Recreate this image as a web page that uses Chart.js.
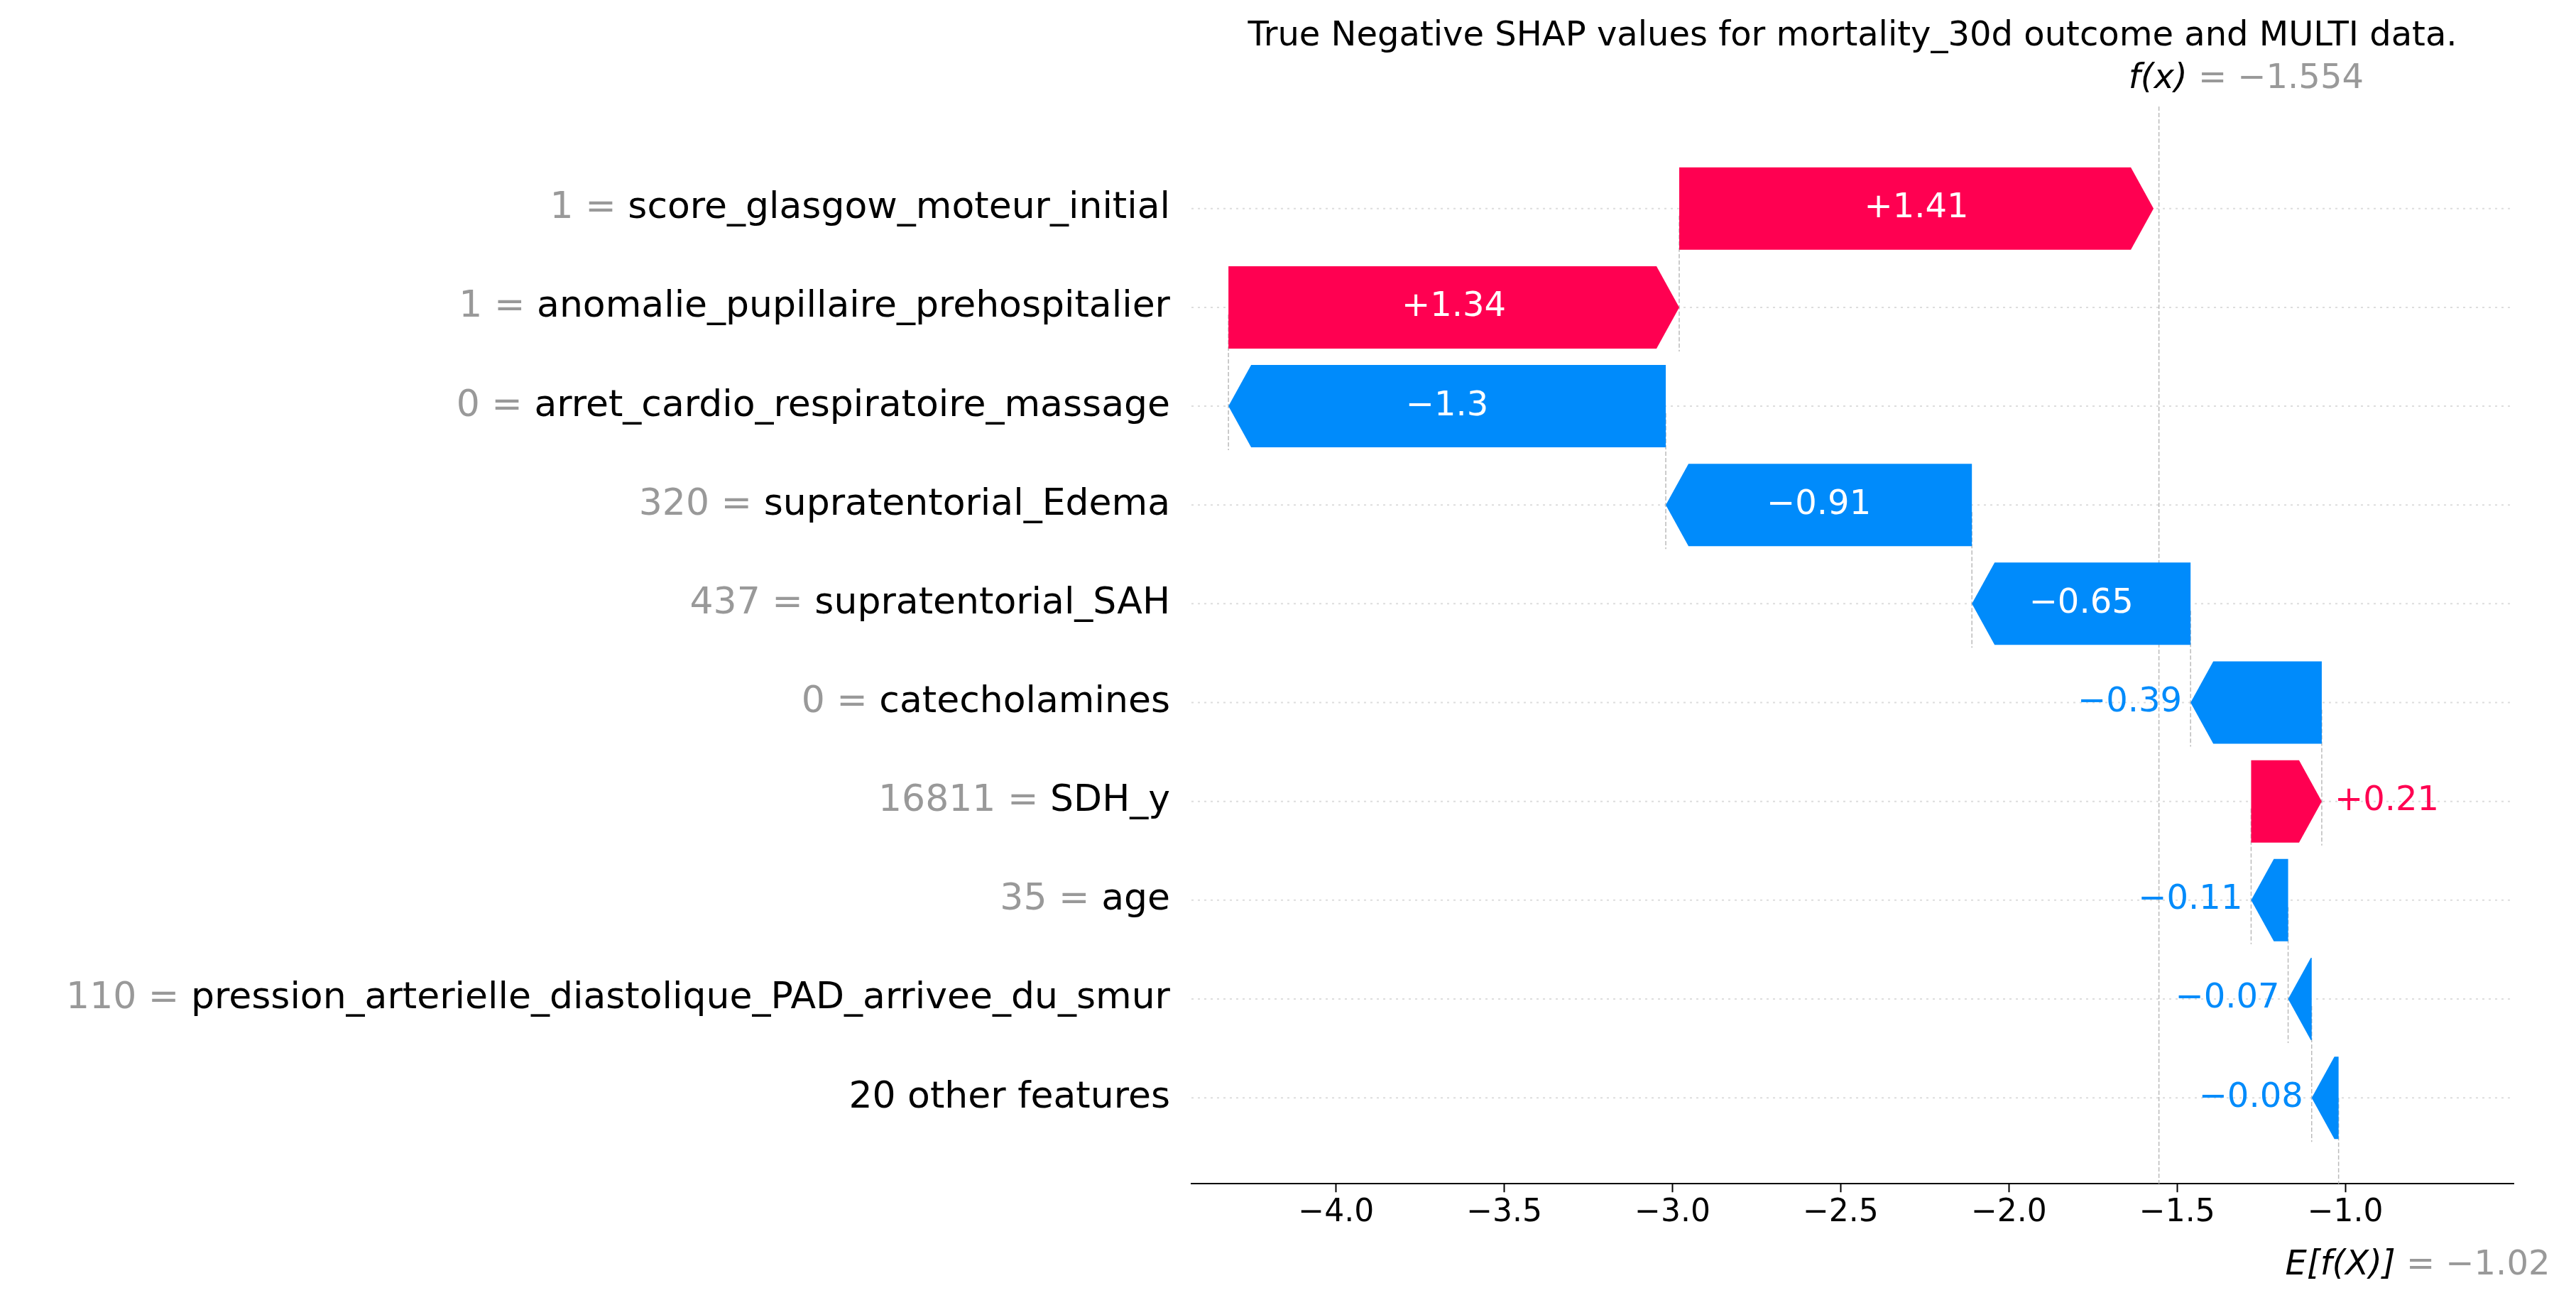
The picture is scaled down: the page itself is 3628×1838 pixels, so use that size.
<!DOCTYPE html>
<html>
<head>
<meta charset="utf-8">
<script src="https://cdn.jsdelivr.net/npm/chart.js@4/dist/chart.umd.min.js"></script>
<style>body{margin:0;background:#fff}</style>
</head>
<body>
<canvas id="c" width="3628" height="1838"></canvas>
<script>
// Chart data (top row first)
const features = [
  "score_glasgow_moteur_initial",
  "anomalie_pupillaire_prehospitalier",
  "arret_cardio_respiratoire_massage",
  "supratentorial_Edema",
  "supratentorial_SAH",
  "catecholamines",
  "SDH_y",
  "age",
  "pression_arterielle_diastolique_PAD_arrivee_du_smur",
  "20 other features"
];
const featureValues = ["1", "1", "0", "320", "437", "0", "16811", "35", "110", ""];
const shapValues = [1.41, 1.34, -1.3, -0.91, -0.65, -0.39, 0.21, -0.11, -0.07, -0.08];
const shapLabels = ["+1.41", "+1.34", "\u22121.3", "\u22120.91", "\u22120.65", "\u22120.39", "+0.21", "\u22120.11", "\u22120.07", "\u22120.08"];
const baseValue = -1.02;
const fxValue = -1.554;
const xTicks = [-4.0, -3.5, -3.0, -2.5, -2.0, -1.5, -1.0];

const RED = "#ff0051";
const BLUE = "#008bfb";
const GRAY = "#999999";
const FONT = "'DejaVu Sans', sans-serif";

// cumulative from the bottom row up
let starts = new Array(features.length);
let ends = new Array(features.length);
let cur = baseValue;
for (let i = features.length - 1; i >= 0; i--) {
  starts[i] = cur;
  cur = cur + shapValues[i];
  ends[i] = cur;
}

const barData = features.map((f, i) => ({ x: [starts[i], ends[i]], y: i }));

const shapPlugin = {
  id: "shap",
  beforeDatasetsDraw(chart) {
    const ctx = chart.ctx;
    const xs = chart.scales.x, ys = chart.scales.y;
    const area = chart.chartArea;
    ctx.save();
    // dotted row lines
    ctx.strokeStyle = "#dddddd";
    ctx.lineWidth = 2;
    ctx.setLineDash([3, 6]);
    for (let i = 0; i < features.length; i++) {
      const y = ys.getPixelForValue(i);
      ctx.beginPath();
      ctx.moveTo(area.left, y);
      ctx.lineTo(area.right, y);
      ctx.stroke();
    }
    // connector lines
    ctx.strokeStyle = "#bbbbbb";
    ctx.lineWidth = 1.5;
    ctx.setLineDash([6, 3]);
    for (let i = 0; i < features.length - 1; i++) {
      const x = xs.getPixelForValue(starts[i]);
      ctx.beginPath();
      ctx.moveTo(x, ys.getPixelForValue(i) + 10);
      ctx.lineTo(x, ys.getPixelForValue(i + 1) + 62);
      ctx.stroke();
    }
    // f(x) and E[f(X)] lines
    let x = xs.getPixelForValue(fxValue);
    ctx.beginPath();
    ctx.moveTo(x, 150);
    ctx.lineTo(x, area.bottom);
    ctx.stroke();
    x = xs.getPixelForValue(baseValue);
    ctx.beginPath();
    ctx.moveTo(x, ys.getPixelForValue(features.length - 1));
    ctx.lineTo(x, area.bottom);
    ctx.stroke();
    ctx.restore();
  },
  afterDatasetsDraw(chart) {
    const ctx = chart.ctx;
    const xs = chart.scales.x, ys = chart.scales.y;
    const h = 116;
    ctx.save();
    for (let i = 0; i < features.length; i++) {
      const y = ys.getPixelForValue(i);
      const x0 = xs.getPixelForValue(starts[i]);
      const x1 = xs.getPixelForValue(ends[i]);
      const dir = x1 > x0 ? 1 : -1;
      const len = Math.abs(x1 - x0);
      const head = Math.min(32, len);
      const xb = x1 - dir * head;
      ctx.fillStyle = shapValues[i] > 0 ? RED : BLUE;
      ctx.beginPath();
      ctx.moveTo(x0, y - h / 2);
      ctx.lineTo(xb, y - h / 2);
      ctx.lineTo(x1, y);
      ctx.lineTo(xb, y + h / 2);
      ctx.lineTo(x0, y + h / 2);
      ctx.closePath();
      ctx.fill();
      // value text
      ctx.font = "48px " + FONT;
      ctx.textBaseline = "middle";
      const tw = ctx.measureText(shapLabels[i]).width;
      if (tw + 40 < len) {
        ctx.fillStyle = "#ffffff";
        ctx.textAlign = "center";
        ctx.fillText(shapLabels[i], (x0 + x1) / 2, y);
      } else {
        ctx.fillStyle = shapValues[i] > 0 ? RED : BLUE;
        if (dir > 0) {
          ctx.textAlign = "left";
          ctx.fillText(shapLabels[i], Math.max(x0, x1) + 18, y);
        } else {
          ctx.textAlign = "right";
          ctx.fillText(shapLabels[i], Math.min(x0, x1) - 12, y);
        }
      }
      // feature label
      ctx.font = "52px " + FONT;
      ctx.textAlign = "right";
      const lx = chart.chartArea.left - 30;
      ctx.fillStyle = "#000000";
      ctx.fillText(features[i], lx, y);
      if (featureValues[i] !== "") {
        const fw = ctx.measureText(features[i]).width;
        ctx.fillStyle = GRAY;
        ctx.fillText(featureValues[i] + " = ", lx - fw, y);
      }
    }
    // title and f(x) / E[f(X)]
    ctx.fillStyle = "#000000";
    ctx.font = "48px " + FONT;
    ctx.textAlign = "center";
    ctx.textBaseline = "middle";
    ctx.fillText("True Negative SHAP values for mortality_30d outcome and MULTI data.",
      (chart.chartArea.left + chart.chartArea.right) / 2, 52);
    let x = xs.getPixelForValue(fxValue);
    ctx.textAlign = "right";
    ctx.font = "italic 48px " + FONT;
    ctx.fillText("f(x)", x + 40, 112);
    ctx.font = "48px " + FONT;
    ctx.textAlign = "left";
    ctx.fillStyle = GRAY;
    ctx.fillText(" = \u22121.554", x + 40, 112);
    x = xs.getPixelForValue(baseValue);
    ctx.textAlign = "right";
    ctx.fillStyle = "#000000";
    ctx.font = "italic 48px " + FONT;
    ctx.fillText("E[f(X)]", x + 80, 1783);
    ctx.font = "48px " + FONT;
    ctx.textAlign = "left";
    ctx.fillStyle = GRAY;
    ctx.fillText(" = \u22121.02", x + 80, 1783);
    ctx.restore();
  }
};

new Chart(document.getElementById("c"), {
  type: "bar",
  data: {
    datasets: [{
      data: barData,
      backgroundColor: "rgba(0,0,0,0)",
      barThickness: 116
    }]
  },
  options: {
    indexAxis: "y",
    responsive: false,
    animation: false,
    layout: { padding: { left: 1678, right: 88, top: 220, bottom: 100 } },
    plugins: { legend: { display: false }, tooltip: { enabled: false } },
    scales: {
      x: {
        type: "linear",
        min: -4.43,
        max: -0.50,
        afterBuildTicks: (axis) => { axis.ticks = xTicks.map(v => ({ value: v })); },
        grid: { drawOnChartArea: false, tickLength: 12, color: "#000", tickWidth: 2 },
        border: { color: "#000", width: 2 },
        ticks: {
          color: "#000",
          font: { size: 44, family: FONT },
          callback: (v) => v.toFixed(1).replace("-", "\u2212")
        }
      },
      y: {
        type: "linear",
        display: false,
        reverse: true,
        offset: false,
        min: -0.53,
        max: 9.87
      }
    }
  },
  plugins: [shapPlugin]
});
</script>
</body>
</html>
